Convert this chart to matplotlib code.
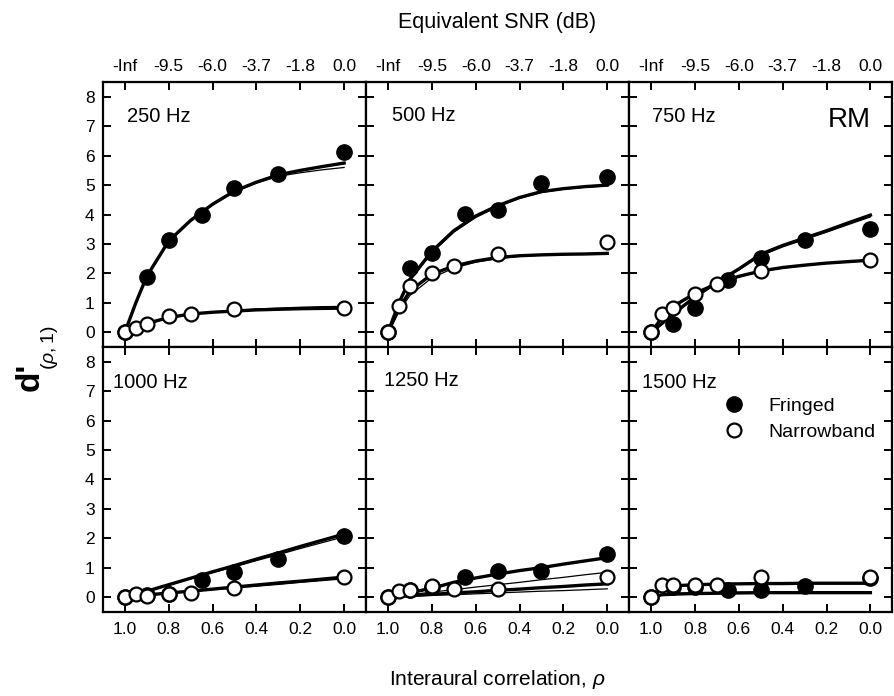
import matplotlib
matplotlib.use("Agg")
import matplotlib.pyplot as plt
from matplotlib.lines import Line2D

plt.rcParams['font.family'] = ['Liberation Sans', 'DejaVu Sans']
plt.rcParams['mathtext.fontset'] = 'custom'
plt.rcParams['mathtext.rm'] = 'Liberation Sans'
plt.rcParams['mathtext.it'] = 'Liberation Sans:italic'
plt.rcParams['mathtext.bf'] = 'Liberation Sans:bold'

# ---------------- data ----------------
freqs = ["250 Hz", "500 Hz", "750 Hz", "1000 Hz", "1250 Hz", "1500 Hz"]
rho_fringed = [1.0, 0.9, 0.8, 0.65, 0.5, 0.3, 0.0]
rho_narrow = [1.0, 0.95, 0.9, 0.8, 0.7, 0.5, 0.0]
rho_fit = [1.0, 0.95, 0.9, 0.8, 0.7, 0.6, 0.5, 0.4, 0.3, 0.2, 0.1, 0.0]

fr_250 = [0, 1.87, 3.14, 3.99, 4.89, 5.38, 6.12]
fr_500 = [0, 2.20, 2.69, 4.02, 4.16, 5.06, 5.26]
fr_750 = [0, 0.27, 0.84, 1.76, 2.54, 3.14, 3.51]
fr_1000 = [0, 0.08, 0.12, 0.59, 0.84, 1.29, 2.09]
fr_1250 = [0, 0.25, 0.35, 0.67, 0.87, 0.87, 1.46]
fr_1500 = [0, 0.35, 0.35, 0.25, 0.25, 0.39, 0.66]

nb_250 = [0, 0.15, 0.27, 0.55, 0.62, 0.78, 0.81]
nb_500 = [0, 0.88, 1.58, 2.0, 2.24, 2.66, 3.05]
nb_750 = [0, 0.62, 0.81, 1.29, 1.63, 2.09, 2.46]
nb_1000 = [0, 0.1, 0.05, 0.1, 0.14, 0.3, 0.67]
nb_1250 = [0, 0.2, 0.25, 0.39, 0.27, 0.27, 0.67]
nb_1500 = [0, 0.41, 0.4, 0.4, 0.41, 0.67, 0.67]

# model fits (thick and thin), read at rho_fit
fitF_250 = [0, 1.0, 1.9, 3.1, 3.8, 4.35, 4.8, 5.1, 5.35, 5.5, 5.63, 5.75]
fitF2_250 = [0, 1.0, 1.9, 3.1, 3.8, 4.33, 4.77, 5.07, 5.3, 5.42, 5.52, 5.6]
fitN_250 = [0, 0.15, 0.3, 0.5, 0.62, 0.68, 0.72, 0.76, 0.78, 0.8, 0.81, 0.82]
fitN2_250 = [0, 0.15, 0.28, 0.48, 0.6, 0.68, 0.74, 0.79, 0.82, 0.85, 0.87, 0.88]

fitF_500 = [0, 1.0, 1.8, 2.75, 3.45, 3.95, 4.3, 4.58, 4.78, 4.88, 4.95, 5.0]
fitF2_500 = [0, 0.95, 1.75, 2.7, 3.4, 3.9, 4.27, 4.55, 4.75, 4.86, 4.93, 4.97]
fitN_500 = [0, 0.8, 1.4, 1.97, 2.25, 2.42, 2.54, 2.6, 2.63, 2.65, 2.66, 2.68]
fitN2_500 = [0, 0.7, 1.25, 1.85, 2.18, 2.38, 2.5, 2.58, 2.62, 2.64, 2.66, 2.67]

fitF_750 = [0, 0.3, 0.62, 1.2, 1.7, 2.15, 2.65, 2.95, 3.2, 3.45, 3.72, 3.98]
fitF2_750 = [0, 0.3, 0.6, 1.17, 1.67, 2.12, 2.6, 2.9, 3.15, 3.4, 3.66, 3.92]
fitN_750 = [0, 0.5, 0.88, 1.32, 1.65, 1.9, 2.08, 2.2, 2.28, 2.35, 2.4, 2.45]
fitN2_750 = [0, 0.48, 0.85, 1.3, 1.63, 1.88, 2.06, 2.18, 2.27, 2.34, 2.39, 2.43]

fitF_1000 = [0, 0.1, 0.2, 0.42, 0.64, 0.86, 1.07, 1.29, 1.5, 1.72, 1.93, 2.14]
fitF2_1000 = [0, 0.1, 0.2, 0.41, 0.62, 0.83, 1.03, 1.24, 1.44, 1.65, 1.85, 2.05]
fitN_1000 = [0, 0.03, 0.07, 0.14, 0.2, 0.27, 0.34, 0.41, 0.48, 0.54, 0.61, 0.68]
fitN2_1000 = [0, 0.03, 0.06, 0.12, 0.19, 0.25, 0.31, 0.37, 0.43, 0.5, 0.56, 0.62]

fitF_1250 = [0, 0.07, 0.15, 0.3, 0.5, 0.65, 0.78, 0.9, 1.0, 1.12, 1.23, 1.34]
fitF2_1250 = [0, 0.04, 0.08, 0.17, 0.25, 0.34, 0.42, 0.5, 0.59, 0.67, 0.76, 0.84]
fitN_1250 = [0, 0.02, 0.05, 0.09, 0.14, 0.18, 0.23, 0.27, 0.32, 0.36, 0.41, 0.45]
fitN2_1250 = [0, 0.01, 0.03, 0.06, 0.08, 0.11, 0.14, 0.17, 0.2, 0.22, 0.25, 0.28]

fitF_1500 = [0, 0.08, 0.1, 0.12, 0.13, 0.14, 0.15, 0.15, 0.15, 0.15, 0.15, 0.15]
fitF2_1500 = [0, 0.1, 0.12, 0.14, 0.15, 0.16, 0.17, 0.17, 0.17, 0.17, 0.17, 0.17]
fitN_1500 = [0, 0.3, 0.38, 0.42, 0.44, 0.45, 0.46, 0.46, 0.47, 0.47, 0.47, 0.47]
fitN2_1500 = [0, 0.28, 0.36, 0.41, 0.43, 0.44, 0.45, 0.45, 0.46, 0.46, 0.46, 0.46]

x_ticks = [1.0, 0.8, 0.6, 0.4, 0.2, 0.0]
x_ticklabels = ["1.0", "0.8", "0.6", "0.4", "0.2", "0.0"]
snr_ticks = [1.0, 0.8, 0.6, 0.4, 0.2, 0.0]
snr_labels = ["-Inf", "-9.5", "-6.0", "-3.7", "-1.8", "0.0"]
y_ticks = [0, 1, 2, 3, 4, 5, 6, 7, 8]

fringed = [fr_250, fr_500, fr_750, fr_1000, fr_1250, fr_1500]
narrow = [nb_250, nb_500, nb_750, nb_1000, nb_1250, nb_1500]
fitsF = [fitF_250, fitF_500, fitF_750, fitF_1000, fitF_1250, fitF_1500]
fitsF2 = [fitF2_250, fitF2_500, fitF2_750, fitF2_1000, fitF2_1250, fitF2_1500]
fitsN = [fitN_250, fitN_500, fitN_750, fitN_1000, fitN_1250, fitN_1500]
fitsN2 = [fitN2_250, fitN2_500, fitN2_750, fitN2_1000, fitN2_1250, fitN2_1500]

# ---------------- figure ----------------
fig = plt.figure(figsize=(8.95, 6.96), dpi=100)
gs = fig.add_gridspec(2, 3, left=0.115, right=0.997, top=0.882, bottom=0.121,
                      wspace=0, hspace=0)

label_pos = [(0.09, 0.872), (0.098, 0.875), (0.088, 0.872),
             (0.038, 0.867), (0.068, 0.872), (0.05, 0.865)]
tick_fs = 12.5

for i in range(6):
    r, c = divmod(i, 3)
    ax = fig.add_subplot(gs[r, c])
    ax.set_xlim(1.1, -0.1)
    ax.set_ylim(-0.5, 8.5)

    ax.plot(rho_fit, fitsF2[i], color='black', lw=0.9, zorder=2)
    ax.plot(rho_fit, fitsN2[i], color='black', lw=0.9, zorder=2)
    ax.plot(rho_fit, fitsF[i], color='black', lw=2.4, zorder=2)
    ax.plot(rho_fit, fitsN[i], color='black', lw=2.4, zorder=2)

    ax.plot(rho_fringed, fringed[i], 'o', ms=11, mfc='black', mec='black',
            ls='none', zorder=3)
    ax.plot(rho_narrow, narrow[i], 'o', ms=10, mfc='white', mec='black',
            mew=1.6, ls='none', zorder=4)

    ax.set_xticks(x_ticks)
    ax.set_yticks(y_ticks)
    ax.tick_params(axis='both', which='both', direction='in', length=6,
                   width=1.4, top=True, right=True, labelsize=tick_fs)
    ax.tick_params(axis='x', pad=7)
    ax.tick_params(axis='y', pad=6)
    if r == 1:
        ax.set_xticklabels(x_ticklabels)
    else:
        ax.set_xticklabels([])
    if c != 0:
        ax.set_yticklabels([])
    for s in ax.spines.values():
        s.set_linewidth(1.6)

    if r == 0:
        sec = ax.secondary_xaxis('top')
        sec.set_xticks(snr_ticks)
        sec.set_xticklabels(snr_labels)
        sec.tick_params(direction='in', length=0, width=1.4,
                        labelsize=tick_fs, pad=6)

    ax.text(label_pos[i][0], label_pos[i][1], freqs[i], transform=ax.transAxes,
            ha='left', va='center', fontsize=14.5)

    if i == 2:
        ax.text(0.918, 0.857, "RM", transform=ax.transAxes, ha='right',
                va='center', fontsize=20)
    if i == 5:
        handles = [Line2D([], [], marker='o', ls='none', ms=11, mfc='black',
                          mec='black'),
                   Line2D([], [], marker='o', ls='none', ms=10, mfc='white',
                          mec='black', mew=1.6)]
        ax.legend(handles, ["Fringed", "Narrowband"], loc='upper left',
                  bbox_to_anchor=(0.33, 0.84), frameon=False, fontsize=14,
                  handletextpad=1.3, labelspacing=0.45, borderaxespad=0,
                  handlelength=1.0)

fig.text(0.555, 0.968, "Equivalent SNR (dB)", ha='center', va='center',
         fontsize=15.5)
fig.text(0.555, 0.023, r"Interaural correlation, $\rho$", ha='center',
         va='center', fontsize=15)
fig.text(0.034, 0.458, "d'", ha='center', va='center', rotation=90,
         fontsize=24, fontweight='bold')
fig.text(0.055, 0.500, r"$(\rho,1)$", ha='center', va='center', rotation=90,
         fontsize=14)

fig.savefig("out.png", dpi=100)
